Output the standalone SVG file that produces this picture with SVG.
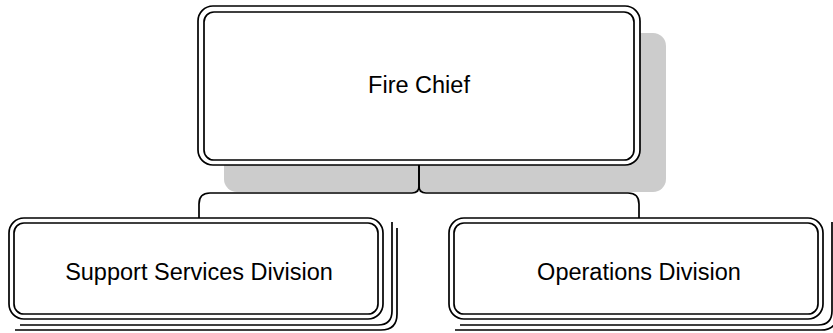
<svg xmlns="http://www.w3.org/2000/svg" width="833" height="333" viewBox="0 0 833 333">
<style>
.ln{fill:none;stroke:#000;stroke-width:1.7}
.bx{fill:#fff;stroke:#000;stroke-width:1.7}
.t{font-family:"Liberation Sans",Arial,sans-serif;font-size:23.5px;fill:#000;text-anchor:middle}
</style>
<rect x="0" y="0" width="833" height="333" fill="#fff"/>
<g id="fire-chief">
<rect x="224" y="33" width="442" height="159" rx="13" fill="#cccccc"/>
<rect class="bx" x="198" y="6" width="442" height="159" rx="15"/>
<rect class="ln" x="204" y="12" width="430" height="148" rx="10"/>
<text class="t" x="419" y="93">Fire Chief</text>
</g>
<g id="connectors">
<path class="ln" d="M419,165 V186 Q419,193 412,193 H210 Q199,193 199,204 V218"/>
<path class="ln" d="M419,165 V186 Q419,193 426,193 H628 Q639,193 639,204 V218"/>
</g>
<g id="support-services">
<path class="ln" d="M392,222 V311 Q392,325 378,325 H20"/>
<path class="ln" d="M397,228 V314 Q397,330 381,330 H15"/>
<rect class="bx" x="9" y="218" width="374" height="101" rx="15"/>
<rect class="ln" x="14" y="223" width="364" height="91" rx="10"/>
<text class="t" x="199" y="280">Support Services Division</text>
</g>
<g id="operations">
<path class="ln" d="M832,222 V311 Q832,325 818,325 H460"/>
<path class="ln" d="M837,228 V314 Q837,330 821,330 H455"/>
<rect class="bx" x="449" y="218" width="374" height="101" rx="15"/>
<rect class="ln" x="454" y="223" width="364" height="91" rx="10"/>
<text class="t" x="639" y="280">Operations Division</text>
</g>
</svg>
